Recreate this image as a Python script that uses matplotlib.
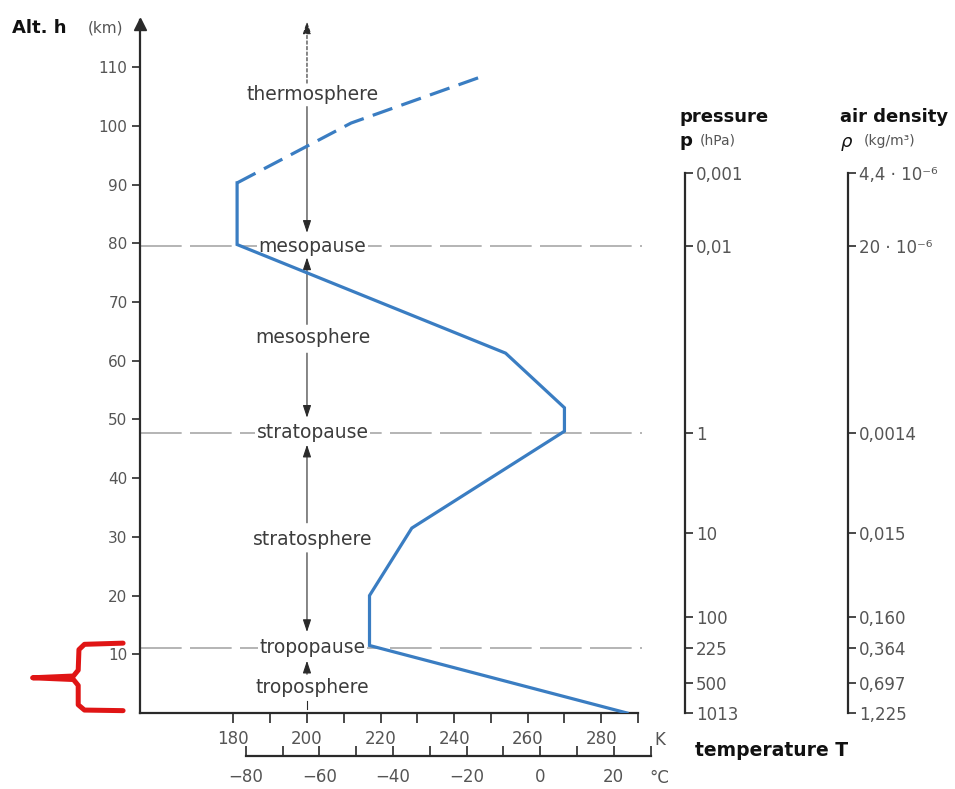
import numpy as np
import matplotlib.pyplot as plt

# temperature profile of the standard atmosphere
temp_k = [287, 217, 217, 228.5, 270, 270, 254, 181, 181, 212, 247]
alt_km = [0, 11.5, 20, 31.5, 48, 52, 61.3, 79.8, 90.3, 100.5, 108.3]
n_solid = 9  # up to ~90 km solid, above that dashed

pause_names = ['mesopause', 'stratopause', 'tropopause']
pause_alt = [79.5, 47.7, 11.1]
layer_names = ['thermosphere', 'mesosphere', 'stratosphere', 'troposphere']
layer_alt = [105.3, 64, 29.5, 4.4]

# pressure / density scales (same altitudes for both)
scale_alt = [92, 79.5, 47.7, 30.7, 16.4, 11.1, 5.1, 0]
p_labels = ['0,001', '0,01', '1', '10', '100', '225', '500', '1013']
rho_labels = ['4,4 · 10⁻⁶', '20 · 10⁻⁶', '0,0014', '0,015', '0,160',
              '0,364', '0,697', '1,225']

alt_ticks = np.arange(10, 111, 10)
k_ticks = np.arange(180, 281, 20)
k_minor = np.arange(190, 291, 20)
c_ticks = np.arange(-80, 21, 20)
c_minor = np.arange(-70, 31, 20)
c_offset = 263.4  # 0 degC position on the K scale, as drawn in the original

W, H = 955, 789
kmin, kmax = 154.6, 290
ink = '#2a2a2a'
grey = '#555555'

fig = plt.figure(figsize=(W / 100, H / 100), dpi=100)

ax = fig.add_axes([140 / W, 1 - 713 / H, 498 / W, 692.7 / H])
ax.set_xlim(kmin, kmax)
ax.set_ylim(0, 118)
for s in ['top', 'right']:
    ax.spines[s].set_visible(False)
for s in ['left', 'bottom']:
    ax.spines[s].set_linewidth(1.6)
    ax.spines[s].set_color(ink)
ax.plot([0], [0.995], marker='^', ms=9, color=ink, transform=ax.transAxes,
        clip_on=False)

ax.set_yticks(alt_ticks)
ax.set_xticks(k_ticks)
ax.set_xticks(k_minor, minor=True)
ax.tick_params(axis='y', length=6, width=1.2, color=ink, labelsize=11,
               labelcolor=grey, pad=3)
ax.tick_params(axis='x', which='both', length=7, width=1.2, color=ink,
               labelsize=12, labelcolor=grey, pad=5)

# temperature curve
ax.plot(temp_k[:n_solid], alt_km[:n_solid], color='#3a7dc2', lw=2.3,
        zorder=5, solid_joinstyle='miter')
ax.plot(temp_k[n_solid - 1:], alt_km[n_solid - 1:], color='#3a7dc2', lw=2.3,
        ls=(0, (6.5, 3)), zorder=5)

# boundary lines and layer names
for a in pause_alt:
    ax.plot([kmin, kmax + 1], [a, a], color='#a8a8a8', lw=1.2,
            ls=(0, (25, 5)), zorder=1, clip_on=False)
box = dict(fc='white', ec='none', pad=1)
for name, a in zip(pause_names + layer_names, pause_alt + layer_alt):
    ax.text(201.5, a, name, ha='center', va='center', fontsize=13.5,
            color='#3c3c3c', bbox=box, zorder=4)

arrows = [(103.3, 81.8), (66.2, 77.6), (61.3, 50.3), (32.4, 45.7),
          (27.3, 13.8), (6.6, 8.9)]
aprops = dict(arrowstyle='-|>,head_length=0.75,head_width=0.25',
              mutation_scale=10, lw=0.8, color=ink, shrinkA=0, shrinkB=0)
for a0, a1 in arrows:
    ax.annotate('', xy=(200, a1), xytext=(200, a0), arrowprops=aprops,
                zorder=3)
ax.annotate('', xy=(200, 117.8), xytext=(200, 107.3),
            arrowprops=dict(aprops, ls=(0, (3, 2))), zorder=3,
            annotation_clip=False)
ax.plot([200, 200], [0.6, 2.1], color=ink, lw=0.8)

# red brace marking the troposphere
brace_k = [150, 139.5, 138, 137.8, 136.5, 125.4, 136.5, 137.8, 137.8,
           139.5, 150]
brace_h = [11.9, 11.7, 10.8, 7.3, 6.3, 6.0, 5.7, 4.7, 1.4, 0.5, 0.4]
ax.plot(brace_k, brace_h, color='#e01515', lw=3.6, clip_on=False,
        solid_joinstyle='round', solid_capstyle='round')

# celsius scale
c_w = 520 / W
ax_c = fig.add_axes([140 / W, 1 - 756 / H, c_w, 0.0001])
c_lo = kmin - c_offset
ax_c.set_xlim(c_lo, c_lo + 520 / 498 * (kmax - kmin))
for s in ['top', 'right', 'left']:
    ax_c.spines[s].set_visible(False)
ax_c.spines['bottom'].set_bounds(-80, 30)
ax_c.spines['bottom'].set_linewidth(1.6)
ax_c.spines['bottom'].set_color(ink)
ax_c.set_yticks([])
ax_c.set_xticks(c_ticks)
ax_c.set_xticks(c_minor, minor=True)
ax_c.set_xticklabels(['−%d' % -c if c < 0 else '%d' % c for c in c_ticks])
ax_c.tick_params(axis='x', which='both', direction='in', length=7,
                 width=1.2, color=ink, labelsize=12, labelcolor=grey, pad=9)

fig.text(660 / W, 1 - 740 / H, 'K', fontsize=12, color=grey,
         ha='center', va='center')
fig.text(659 / W, 1 - 778 / H, '°C', fontsize=12, color=grey,
         ha='center', va='center')
fig.text(695 / W, 1 - 750 / H, 'temperature T', fontsize=13.5,
         fontweight='bold', color='#111111', va='center')

# pressure and density scales
for xp, labels in [(685, p_labels), (848, rho_labels)]:
    a2 = fig.add_axes([xp / W, 1 - 713 / H, 0.0001, 692.7 / H])
    a2.set_ylim(0, 118)
    for s in ['top', 'left', 'bottom']:
        a2.spines[s].set_visible(False)
    a2.spines['right'].set_bounds(0, 92)
    a2.spines['right'].set_linewidth(1.6)
    a2.spines['right'].set_color(ink)
    a2.set_xticks([])
    a2.yaxis.tick_right()
    a2.set_yticks(scale_alt)
    a2.set_yticklabels(labels)
    a2.tick_params(axis='y', length=6, width=1.2, color=ink, labelsize=12,
                   labelcolor=grey, pad=2)

fig.text(12 / W, 1 - 28 / H, 'Alt. h', fontsize=13, fontweight='bold',
         color='#111111', va='center')
fig.text(88 / W, 1 - 28 / H, '(km)', fontsize=11, color=grey, va='center')
fig.text(679 / W, 1 - 117 / H, 'pressure', fontsize=13, fontweight='bold',
         color='#111111', va='center')
fig.text(679 / W, 1 - 141 / H, 'p', fontsize=13, fontweight='bold',
         color='#111111', va='center')
fig.text(700 / W, 1 - 141 / H, '(hPa)', fontsize=10, color=grey,
         va='center')
fig.text(840 / W, 1 - 117 / H, 'air density', fontsize=13,
         fontweight='bold', color='#111111', va='center')
fig.text(841 / W, 1 - 142 / H, 'ρ', fontsize=13, style='italic',
         color='#111111', va='center')
fig.text(864 / W, 1 - 141 / H, '(kg/m³)', fontsize=10, color=grey,
         va='center')

fig.savefig('out.png', dpi=100)
